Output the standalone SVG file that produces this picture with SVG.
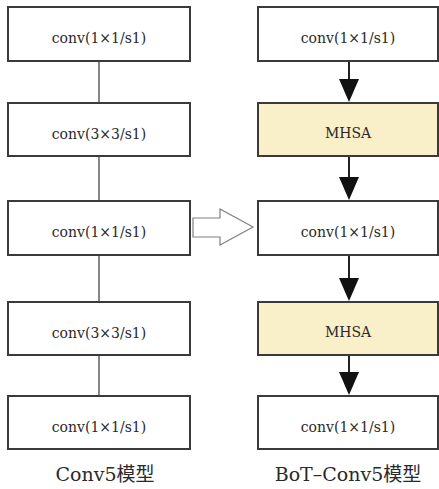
<svg xmlns="http://www.w3.org/2000/svg" width="439" height="489" viewBox="0 0 439 489">
<defs>
<style>
.box{fill:#ffffff;stroke:#3a3a3a;stroke-width:2}
.mhsa{fill:#f9efc8;stroke:#3a3a3a;stroke-width:2}
.lbl{font-family:'DejaVu Serif',serif;font-size:14px;fill:#2a2a2a;text-anchor:middle}
.cap{font-family:'DejaVu Serif','Noto Sans CJK SC',serif;font-size:19px;fill:#2a2a2a;text-anchor:middle}
.plain{stroke:#444;stroke-width:1.3;fill:none}
.arr{stroke:#222;stroke-width:2;fill:none;marker-end:url(#tri)}
</style>
<marker id="tri" markerUnits="userSpaceOnUse" markerWidth="23" markerHeight="20" viewBox="0 0 23 20" refX="0" refY="10" orient="auto">
<path d="M0,0 L23,10 L0,20 z" fill="#111"/>
</marker>
</defs>
<rect width="439" height="489" fill="#ffffff"/>
<g id="connectors">
<line class="plain" x1="99" y1="61" x2="99" y2="103"/>
<line class="plain" x1="99" y1="156" x2="99" y2="201"/>
<line class="plain" x1="99" y1="255" x2="99" y2="302"/>
<line class="plain" x1="99" y1="355" x2="99" y2="396"/>
<line class="arr" x1="349" y1="61" x2="349" y2="79"/>
<line class="arr" x1="349" y1="156" x2="349" y2="177"/>
<line class="arr" x1="349" y1="255" x2="349" y2="278"/>
<line class="arr" x1="349" y1="355" x2="349" y2="372"/>
<polygon id="transform-arrow" points="193,218 220,218 220,209 253,227 220,245 220,237 193,237" fill="#ffffff" stroke="#808080" stroke-width="1.2"/>
</g>
<g id="L1"><rect class="box" x="8" y="7" width="182" height="54"/><text class="lbl" x="99" y="43">conv(1×1/s1)</text></g>
<g id="L2"><rect class="box" x="8" y="103" width="182" height="53"/><text class="lbl" x="99" y="139">conv(3×3/s1)</text></g>
<g id="L3"><rect class="box" x="8" y="201" width="182" height="54"/><text class="lbl" x="99" y="237">conv(1×1/s1)</text></g>
<g id="L4"><rect class="box" x="8" y="302" width="182" height="53"/><text class="lbl" x="99" y="338">conv(3×3/s1)</text></g>
<g id="L5"><rect class="box" x="8" y="396" width="182" height="53"/><text class="lbl" x="99" y="432">conv(1×1/s1)</text></g>
<g id="R1"><rect class="box" x="258" y="7" width="180" height="54"/><text class="lbl" x="348" y="43">conv(1×1/s1)</text></g>
<g id="R2"><rect class="mhsa" x="258" y="103" width="180" height="53"/><text class="lbl" x="348" y="138">MHSA</text></g>
<g id="R3"><rect class="box" x="258" y="201" width="180" height="54"/><text class="lbl" x="348" y="237">conv(1×1/s1)</text></g>
<g id="R4"><rect class="mhsa" x="258" y="302" width="180" height="53"/><text class="lbl" x="348" y="337">MHSA</text></g>
<g id="R5"><rect class="box" x="258" y="396" width="180" height="53"/><text class="lbl" x="348" y="432">conv(1×1/s1)</text></g>
<g id="captions">
<text class="cap" x="105" y="481">Conv5模型</text>
<text class="cap" x="348" y="481">BoT–Conv5模型</text>
</g>
</svg>
